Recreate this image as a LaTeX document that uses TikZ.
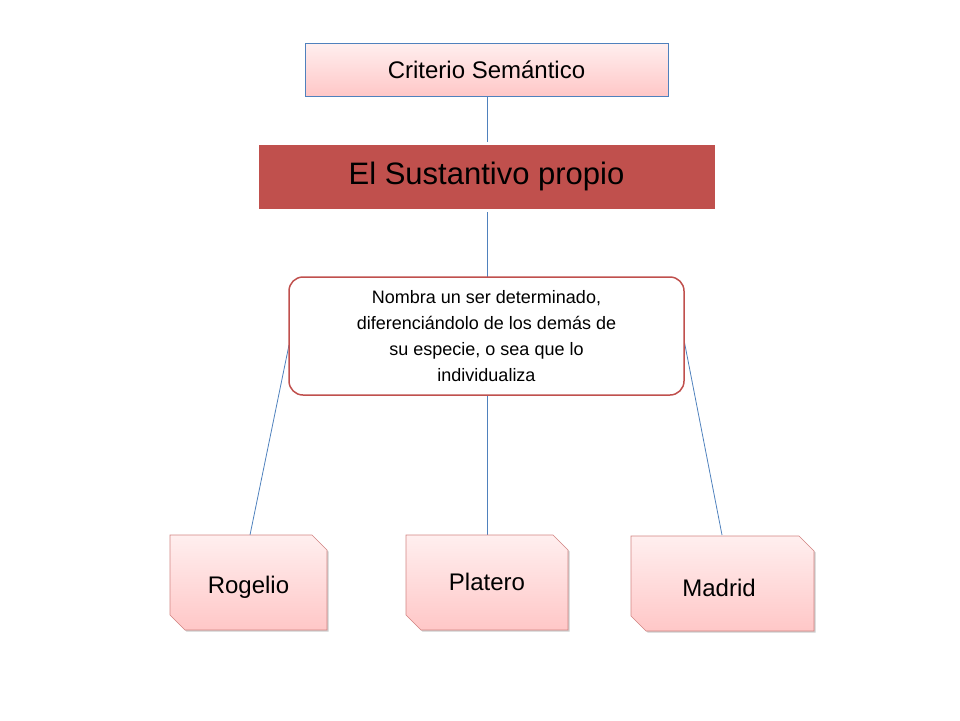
\documentclass[tikz,border=0pt]{standalone}
\usepackage{fontspec}
\setmainfont{Liberation Sans}
\usetikzlibrary{shadows}
\definecolor{pinkA}{HTML}{FFC7C7}
\definecolor{pinkB}{HTML}{FFEFEF}
\definecolor{darkred}{HTML}{C0504D}
\definecolor{lineblue}{HTML}{4F81BD}
\tikzset{
  conn/.style={draw=lineblue,line width=0.8pt},
  pinkfill/.style={top color=pinkB,bottom color=pinkA},
  snip/.style={pinkfill,draw=darkred!70,line width=0.6pt,drop shadow={shadow xshift=1.5pt,shadow yshift=-1.5pt,opacity=0.4}},
  lbl/.style={font=\fontsize{24}{28}\selectfont}
}
\begin{document}
\begin{tikzpicture}[x=1pt,y=-1pt]
\useasboundingbox (0,0) rectangle (960,720);
% connectors first
\coordinate (a1) at (487,96); \coordinate (a2) at (487,143);
\coordinate (b1) at (487,210); \coordinate (b2) at (487,277);
\coordinate (c1) at (487,395); \coordinate (c2) at (487,535);
\coordinate (l1) at (289,345); \coordinate (l2) at (250,535);
\coordinate (r1) at (684,340); \coordinate (r2) at (722,535);
\draw[conn] (a1)--(a2); \draw[conn] (b1)--(b2); \draw[conn] (c1)--(c2);
\draw[conn] (l1)--(l2); \draw[conn] (r1)--(r2);
% top
\node[pinkfill,draw=lineblue,line width=0.6pt,minimum width=363pt,minimum height=53pt,lbl,inner sep=0pt] (top) at (486.5,69.5) {Criterio Semántico};
\node[fill=darkred,draw=white,line width=3pt,drop shadow={shadow xshift=0pt,shadow yshift=-2pt,opacity=0.3},minimum width=459pt,minimum height=67pt,font=\fontsize{31}{36}\selectfont,inner sep=0pt] (sus) at (486.5,176.5) {El Sustantivo propio};
\node[fill=white,draw=darkred,line width=1.5pt,rounded corners=14pt,minimum width=395pt,minimum height=118pt,align=center,font=\fontsize{18}{26}\selectfont,inner sep=0pt] (def) at (486.5,336) {Nombra un ser determinado,\\diferenciándolo de los demás de\\su especie, o sea que lo\\individualiza};
% snipped boxes
\path[snip] (170,535) -- (312,535) -- (327,550) -- (327,630) -- (185,630) -- (170,615) -- cycle;
\node[lbl] (rog) at (248.5,587) {Rogelio};
\path[snip] (406,535) -- (553,535) -- (568,550) -- (568,630) -- (421,630) -- (406,615) -- cycle;
\node[lbl] (pla) at (487,582) {Platero};
\path[snip] (631,536) -- (799,536) -- (814,551) -- (814,631) -- (646,631) -- (631,616) -- cycle;
\node[lbl] (mad) at (719,588) {Madrid};
\end{tikzpicture}
\end{document}
